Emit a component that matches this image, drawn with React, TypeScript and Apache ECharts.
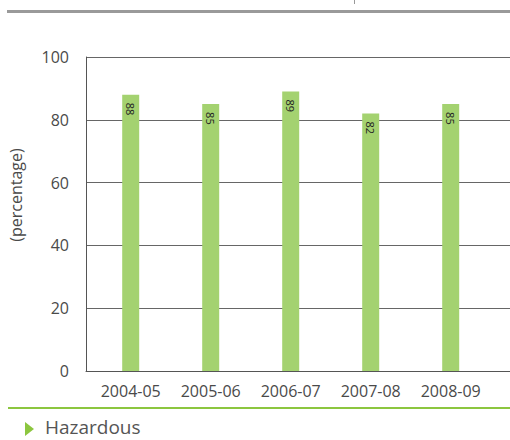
import React, { useEffect, useRef } from "react";
import * as echarts from "echarts";

const categories = ["2004-05", "2005-06", "2006-07", "2007-08", "2008-09"];
const values = [88, 85, 89, 82, 85];
const yTicks = { min: 0, max: 100, interval: 20 };
const yName = "(percentage)";
const footerLabel = "Hazardous";

const FONT = "'Open Sans', 'Noto Sans', sans-serif";

export default function App() {
  const ref = useRef<HTMLDivElement>(null);
  useEffect(() => {
    document.body.style.margin = "0";
    if (!ref.current) return;
    const chart = echarts.init(ref.current, undefined, { renderer: "svg" });
    chart.setOption({
      animation: false,
      backgroundColor: "#ffffff",
      grid: [
        { left: 86, right: 0, top: 57, bottom: 69 },
        { left: 90.7, right: 19.3, top: 57, bottom: 69 },
      ],
      xAxis: [
        {
          type: "value",
          gridIndex: 0,
          min: 0,
          max: 1,
          axisLine: { show: true, lineStyle: { color: "#555", width: 1 } },
          axisTick: { show: false },
          axisLabel: { show: false },
          splitLine: { show: false },
        },
        {
          type: "category",
          gridIndex: 1,
          data: categories,
          axisLine: { show: false },
          axisTick: { show: false },
          axisLabel: { color: "#4a4a4a", fontSize: 16, fontFamily: FONT, margin: 12 },
          splitLine: { show: false },
        },
      ],
      yAxis: [
        {
          type: "value",
          gridIndex: 0,
          min: yTicks.min,
          max: yTicks.max,
          interval: yTicks.interval,
          axisLine: { show: true, lineStyle: { color: "#555", width: 1 } },
          axisTick: { show: false },
          axisLabel: { color: "#4a4a4a", fontSize: 16, fontFamily: FONT, margin: 17 },
          splitLine: { show: true, lineStyle: { color: "#666", width: 1 } },
        },
        {
          type: "value",
          gridIndex: 1,
          min: yTicks.min,
          max: yTicks.max,
          interval: yTicks.interval,
          show: false,
        },
      ],
      series: [
        {
          type: "bar",
          xAxisIndex: 1,
          yAxisIndex: 1,
          data: values,
          barWidth: 17,
          itemStyle: { color: "#a4d270" },
          label: {
            show: true,
            position: "insideTop",
            distance: 8,
            rotate: -90,
            align: "left",
            verticalAlign: "middle",
            color: "#222",
            fontSize: 11,
            fontFamily: FONT,
          },
        },
      ],
      graphic: [
        { type: "rect", shape: { x: 7, y: 10, width: 503, height: 3 }, style: { fill: "#9a9a9a" } },
        { type: "rect", shape: { x: 354, y: 0, width: 1, height: 4 }, style: { fill: "#999" } },
        { type: "rect", shape: { x: 8, y: 407, width: 502, height: 2 }, style: { fill: "#8cc63f" } },
        {
          type: "polygon",
          shape: { points: [[25, 422], [34, 429], [25, 436]] },
          style: { fill: "#8cc63f" },
        },
        {
          type: "text",
          x: 45,
          y: 427,
          style: {
            text: footerLabel,
            fill: "#555",
            fontSize: 19,
            fontFamily: FONT,
            align: "left",
            verticalAlign: "middle",
          },
        },
        {
          type: "text",
          x: 16,
          y: 195,
          rotation: Math.PI / 2,
          style: {
            text: yName,
            fill: "#4a4a4a",
            fontSize: 16,
            fontFamily: FONT,
            align: "center",
            verticalAlign: "middle",
          },
        },
      ],
    });
    return () => chart.dispose();
  }, []);
  return <div ref={ref} style={{ width: 510, height: 440 }} />;
}
